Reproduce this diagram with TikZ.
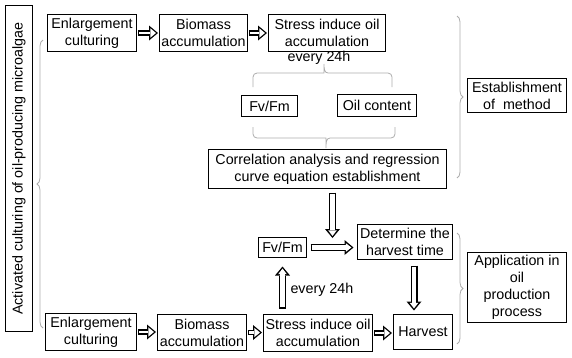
\documentclass[tikz,border=0pt]{standalone}
\usepackage{fontspec}
\setmainfont{Liberation Sans}
\usetikzlibrary{calc, arrows.meta, decorations.pathreplacing}

\tikzset{
  box/.style={draw, line width=1.4pt, align=center, inner sep=1pt, outer sep=0pt},
  bracket/.style={draw=gray!65, line width=0.8pt},
  curly/.style={bracket, decorate, decoration={brace, amplitude=#1}},
  rowarrow/.style={line width=5.5pt, shorten <=1.5pt, shorten >=1.5pt,
    -{Triangle[length=9pt, width=15pt, line width=0pt]},
    postaction={draw=white, line width=2.9pt, shorten <=2.8pt, shorten >=3.5pt,
      -{Triangle[length=5.7pt, width=9.4pt, line width=0pt]}}},
  flowarrow/.style 2 args={line width=7pt, shorten <=#1, shorten >=#2,
    -{Triangle[length=9pt, width=15pt, line width=0pt]},
    postaction={draw=white, line width=4.4pt, shorten <=#1+1.3pt, shorten >=#2+2.1pt,
      -{Triangle[length=5.6pt, width=8.7pt, line width=0pt]}}}
}

\begin{document}
\begin{tikzpicture}[x=1pt, y=-1pt, font=\fontsize{14.3}{17}\selectfont]
  \useasboundingbox (0,0) rectangle (572,357);
  \node[box, rotate=90, minimum width=326pt, minimum height=27pt] (act) at (19,168.5)
    {Activated culturing of oil-producing microalgae};
  % establishment of method
  \node[box, minimum width=89pt, minimum height=37pt] (e1) at (92,33) {Enlargement\\culturing};
  \node[box, minimum width=88pt, minimum height=37pt] (b1) at (203.5,33) {Biomass\\accumulation};
  \node[box, minimum width=117pt, minimum height=37pt] (s1) at (327,33) {Stress induce oil\\accumulation};
  \node (t1) at (319,58) {every 24h};
  \node[box, minimum width=56pt, minimum height=21pt] (f1) at (269.5,106) {Fv/Fm};
  \node[box, minimum width=79pt, minimum height=22pt] (o1) at (377,105.5) {Oil content};
  \node[box, minimum width=238pt, minimum height=39pt] (corr) at (327.5,169)
    {Correlation analysis and regression\\curve equation establishment};
  \node[box, minimum width=99pt, minimum height=34pt] (est) at (517,95.5) {Establishment\\of\ \ method};
  % application
  \node[box, minimum width=48pt, minimum height=20pt] (f2) at (282.5,247.5) {Fv/Fm};
  \node[box, minimum width=95pt, minimum height=35pt] (det) at (405,242) {Determine the\\harvest time};
  \node[box, minimum width=99pt, minimum height=70pt] (app) at (517,287.5)
    {Application in\\oil\\production\\process};
  \node[box, minimum width=91pt, minimum height=37pt] (e2) at (91,332) {Enlargement\\culturing};
  \node[box, minimum width=89pt, minimum height=36pt] (b2) at (202,332.5) {Biomass\\accumulation};
  \node[box, minimum width=109pt, minimum height=37pt] (s2) at (318,333) {Stress induce oil\\accumulation};
  \node[box, minimum width=59pt, minimum height=35pt] (h2) at (423,332) {Harvest};
  \node[anchor=west] (t2) at (287,290) {every 24h};

  \draw[rowarrow] (e1.east) -- (b1.west);
  \draw[rowarrow] (b1.east) -- (s1.west);
  \draw[rowarrow] (e2.east) -- (e2.east -| b2.west);
  \draw[rowarrow] (b2.east) -- (b2.east -| s2.west);
  \draw[rowarrow] (s2.east) -- (s2.east -| h2.west);

  \coordinate (m) at (332.5,238);
  \coordinate (mid) at ($(det.south)!.5!(h2.north)$);
  \draw[flowarrow={4pt}{0pt}] (corr.south -| m) -- (m);
  \draw[flowarrow={4pt}{4pt}] (f2.east) -- (f2.east -| det.west);
  \draw[flowarrow={6pt}{4pt}] (det.south -| mid) -- (h2.north -| mid);
  \draw[flowarrow={6pt}{9pt}] (s2.north -| f2.south) -- (f2.south);

  \draw[bracket] (253,87) [rounded corners=4pt] |- (320,73) [sharp corners]
    to[out=0, in=-90] (324,64) to[out=-90, in=180] (328,73) [rounded corners=4pt] -| (392,87);
  \draw[bracket] (253,127) [rounded corners=4pt] |- (322,138) [sharp corners]
    to[out=0, in=90] (326,148) to[out=90, in=180] (330,138) [rounded corners=4pt] -| (395,127);
  \draw[curly=6pt] (43,328) -- (43,40);
  \draw[curly=6pt] (457,16) -- (457,178);
  \draw[curly=6pt] (457,233) -- (457,344);
\end{tikzpicture}
\end{document}
